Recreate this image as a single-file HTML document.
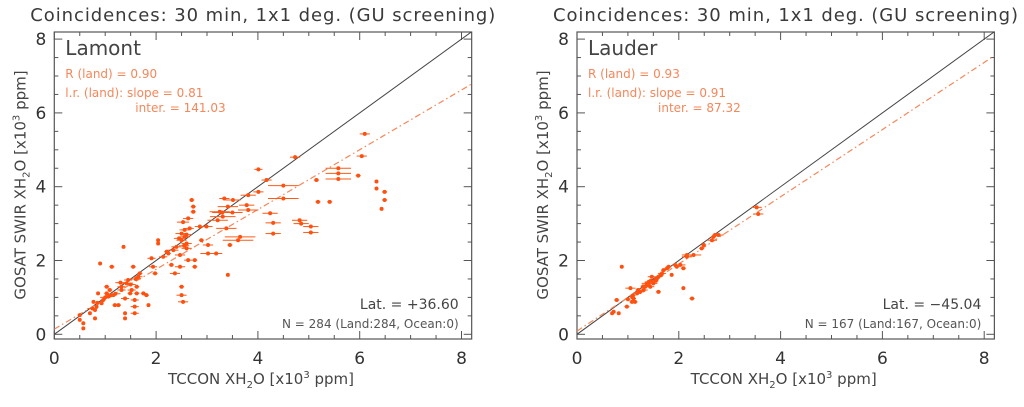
<!DOCTYPE html>
<html><head><meta charset="utf-8"><style>
body{margin:0;background:#fff;width:1024px;height:402px;overflow:hidden}
svg{font-family:"DejaVu Sans","Liberation Sans",sans-serif}
</style></head><body>
<svg id="s" width="1024" height="402"></svg>
<script>
// Lamont data
const lamX=[0.5,0.5,0.57,0.57,0.7,0.77,0.8,0.8,0.83,0.86,0.9,0.93,0.96,1.03,1.03,1.06,1.09,1.13,1.16,1.19,1.26,1.32,1.32,1.36,1.39,1.39,1.39,1.42,1.45,1.49,1.52,1.55,1.58,1.58,1.58,1.62,1.62,1.65,1.68,1.75,1.81,1.85,1.91,1.94,1.98,2.04,2.04,2.14,2.21,2.24,2.3,2.34,2.37,2.4,2.47,2.47,2.5,2.5,2.53,2.5,2.5,2.53,2.56,2.56,2.6,2.6,2.63,2.63,2.66,2.7,2.73,2.73,2.76,2.76,2.86,2.89,2.99,3.02,3.02,3.18,3.21,3.25,3.31,3.34,3.38,3.41,3.45,3.41,3.51,3.61,3.65,3.78,3.81,3.81,4.01,4.01,4.17,4.24,4.3,4.3,4.5,4.5,4.73,4.82,4.85,5.04,5.04,5.15,5.18,5.41,5.58,5.58,5.58,5.97,6.04,6.1,6.33,6.33,6.43,6.49,6.49,0.75,0.85,1.0,1.1,1.2,1.3,1.5,1.6,2.45,2.55,2.6,3.3,3.5];
const lamY=[0.52,0.39,0.16,0.3,0.57,0.88,0.66,0.43,0.75,1.11,1.92,0.84,0.93,1.11,1.29,1.02,1.2,1.83,1.06,0.79,0.79,1.2,1.29,2.37,0.97,0.57,0.43,1.38,1.47,1.11,1.2,1.83,0.93,0.75,0.57,1.29,1.11,1.56,1.65,1.11,1.06,0.79,2.06,1.83,1.65,2.55,2.46,2.1,2.24,2.19,1.88,2.28,1.65,2.37,1.83,2.15,1.29,1.06,0.88,2.73,2.55,3.04,2.83,2.64,2.46,2.33,2.01,3.14,2.87,3.64,3.46,3.32,2.01,1.83,2.92,2.55,2.92,2.42,2.19,2.19,3.09,3.32,3.19,3.68,2.87,1.61,2.42,3.46,3.64,2.55,2.64,3.5,3.37,3.77,3.86,4.47,4.18,3.28,2.73,3.02,4.03,3.68,4.8,3.09,3.0,2.92,2.76,4.18,3.59,3.59,4.5,4.36,4.21,4.3,4.83,5.43,4.14,3.95,3.4,3.86,3.64,0.7,0.85,1.0,1.05,1.1,1.4,1.35,1.5,2.6,2.4,2.7,3.3,3.3];
const lamE=[0.02,0.02,0.02,0.02,0.02,0.03,0.03,0.03,0.03,0.03,0.03,0.03,0.05,0.05,0.05,0.05,0.05,0.05,0.05,0.05,0.05,0.08,0.08,0.03,0.08,0.03,0.03,0.08,0.08,0.05,0.08,0.05,0.08,0.08,0.08,0.05,0.05,0.08,0.05,0.05,0.05,0.03,0.08,0.08,0.05,0.03,0.03,0.08,0.05,0.05,0.05,0.1,0.1,0.1,0.1,0.1,0.05,0.1,0.1,0.12,0.1,0.12,0.1,0.1,0.1,0.1,0.08,0.1,0.08,0.05,0.05,0.05,0.05,0.05,0.1,0.05,0.12,0.1,0.15,0.12,0.2,0.2,0.25,0.1,0.2,0.03,0.05,0.2,0.15,0.3,0.3,0.15,0.2,0.15,0.1,0.08,0.1,0.15,0.15,0.15,0.3,0.3,0.1,0.15,0.15,0.15,0.15,0.05,0.05,0.05,0.25,0.25,0.25,0.05,0.1,0.1,0.03,0.03,0.03,0.05,0.05,0.1,0.1,0.1,0.1,0.1,0.1,0.1,0.1,0.1,0.1,0.1,0.2,0.2];
// Lauder data
const lauX=[0.69,0.72,0.78,0.82,0.88,0.98,1.05,1.08,1.08,1.11,1.14,1.18,1.24,1.31,1.34,1.37,1.41,1.44,1.47,1.5,1.54,1.57,1.6,1.6,1.67,1.7,1.77,1.8,1.86,1.93,1.96,2.03,2.09,2.09,2.16,2.16,2.26,2.29,2.45,2.49,2.65,2.68,2.71,2.78,3.53,3.56,1.0,1.2,1.3,1.4,1.45,1.55,1.65,1.1];
const lauY=[0.57,0.61,0.93,0.57,1.83,0.75,1.25,0.88,1.02,0.97,0.88,1.11,1.15,1.2,1.29,1.38,1.42,1.29,1.56,1.38,1.47,1.51,1.15,1.56,1.65,1.74,1.79,1.83,1.61,1.88,1.83,1.88,1.79,1.25,2.1,2.15,0.97,2.15,2.33,2.42,2.55,2.64,2.69,2.69,3.44,3.26,0.95,1.2,1.3,1.35,1.45,1.45,1.6,1.05];
const lauE=[0.03,0.03,0.05,0.03,0.03,0.05,0.1,0.05,0.05,0.05,0.05,0.08,0.08,0.08,0.08,0.1,0.08,0.08,0.08,0.08,0.05,0.05,0.05,0.05,0.08,0.05,0.05,0.05,0.03,0.05,0.05,0.1,0.05,0.03,0.1,0.1,0.05,0.15,0.05,0.05,0.1,0.05,0.05,0.1,0.1,0.1,0.05,0.05,0.05,0.05,0.05,0.05,0.05,0.05];
const ticks=[0,2,4,6,8];
const panels=[
 {x0:54.3,site:"Lamont",R:"0.90",slope:0.81,inter:141.03,lat:"+36.60",N:"N = 284 (Land:284, Ocean:0)",xs:lamX,ys:lamY,es:lamE,key:"lamont"},
 {x0:577,site:"Lauder",R:"0.93",slope:0.91,inter:87.32,lat:"\u221245.04",N:"N = 167 (Land:167, Ocean:0)",xs:lauX,ys:lauY,es:lauE,key:"lauder"}];
const S=document.getElementById('s'),NS="http://www.w3.org/2000/svg";
const KX=50.9,KY=36.9,Y0=334.3,TOP=32,BOT=339;
function mk(t,a,p){const e=document.createElementNS(NS,t);for(const k in a)e.setAttribute(k,a[k]);(p||S).appendChild(e);return e;}
panels.forEach(p=>{
 const sx=v=>p.x0+v*KX, sy=v=>Y0-v*KY;
 const L=p.x0, R=sx(8.2);
 const g=mk('g',{});
 
 
 const cid='c'+p.key;
 const cp=mk('clipPath',{id:cid},g);mk('rect',{x:L,y:TOP,width:R-L,height:BOT-TOP},cp);
 const t=mk('text',{x:L-24,y:21,'font-size':18,fill:'#3a3a3a',textLength:465,lengthAdjust:'spacing'},g);t.textContent="Coincidences: 30 min, 1x1 deg. (GU screening)";
 
 const fr=mk('rect',{x:L,y:TOP,width:R-L,height:BOT-TOP,fill:'none',stroke:'#555','stroke-width':1.2},g);
 
 for(let v=0;v<=8.01;v+=0.5){const maj=Math.abs(v%2)<1e-6,len=maj?8:4;
  mk('line',{x1:sx(v),x2:sx(v),y1:BOT,y2:BOT-len,stroke:'#555'},g);
  mk('line',{x1:sx(v),x2:sx(v),y1:TOP,y2:TOP+len,stroke:'#555'},g);
  mk('line',{x1:L,x2:L+len,y1:sy(v),y2:sy(v),stroke:'#555'},g);
  mk('line',{x1:R,x2:R-len,y1:sy(v),y2:sy(v),stroke:'#555'},g);}
 ticks.forEach(v=>{
  const a=mk('text',{x:sx(v),y:364,'text-anchor':'middle','font-size':17,fill:'#333'},g);a.textContent=v;
  
  const b=mk('text',{x:L-8,y:sy(v)+6,'text-anchor':'end','font-size':17,fill:'#333'},g);b.textContent=v;
  });
 const xt=mk('text',{x:(L+R)/2-2,y:384,'text-anchor':'middle','font-size':15,fill:'#444'},g);
 xt.innerHTML='TCCON XH<tspan dy="4" font-size="10">2</tspan><tspan dy="-4">O [x10</tspan><tspan dy="-6" font-size="10">3</tspan><tspan dy="6"> ppm]</tspan>';
 
 const yt=mk('text',{x:0,y:0,'text-anchor':'middle','font-size':15,fill:'#444',transform:`translate(${L-29},185) rotate(-90)`},g);
 yt.innerHTML='GOSAT SWIR XH<tspan dy="4" font-size="10">2</tspan><tspan dy="-4">O [x10</tspan><tspan dy="-6" font-size="10">3</tspan><tspan dy="6"> ppm]</tspan>';
 
 const st=mk('text',{x:L+11,y:55,'font-size':20,fill:'#444'},g);st.textContent=p.site;
 
 const o='#f5875a';
 const t1=mk('text',{x:L+11,y:78,'font-size':12,fill:o},g);t1.textContent='R (land) = '+p.R;
 
 const t2=mk('text',{x:L+11,y:97,'font-size':12,fill:o},g);t2.textContent='l.r. (land): slope = '+p.slope.toFixed(2);
 
 const t3=mk('text',{x:L+81,y:112,'font-size':12,fill:o},g);t3.textContent='inter. = '+p.inter.toFixed(2);
 
 const t4=mk('text',{x:R-13,y:309,'text-anchor':'end','font-size':14,fill:'#444'},g);t4.textContent='Lat. = '+p.lat;
 
 const t5=mk('text',{x:R-13,y:328,'text-anchor':'end','font-size':12,fill:'#555'},g);t5.textContent=p.N;
 
 const pg=mk('g',{'clip-path':`url(#${cid})`},g);
 const one=mk('line',{x1:sx(0),y1:sy(0),x2:sx(8.2),y2:sy(8.2),stroke:'#444','stroke-width':1},pg);
 
 const b=p.inter/1000;
 const fit=mk('line',{x1:sx(0),y1:sy(b),x2:sx(8.2),y2:sy(b+p.slope*8.2),stroke:'#f5875a','stroke-width':1.2,'stroke-dasharray':'6 3 1.5 3'},pg);
 
 p.xs.forEach((x,i)=>{
  const e=p.es[i];
  const l=mk('line',{x1:sx(x-e),x2:sx(x+e),y1:sy(p.ys[i]),y2:sy(p.ys[i]),stroke:'#ff5a14','stroke-width':1},pg);
  
  const c=mk('circle',{cx:sx(x),cy:sy(p.ys[i]),r:2,fill:'#ff5010'},pg);
  
 });
});
</script></body></html>
